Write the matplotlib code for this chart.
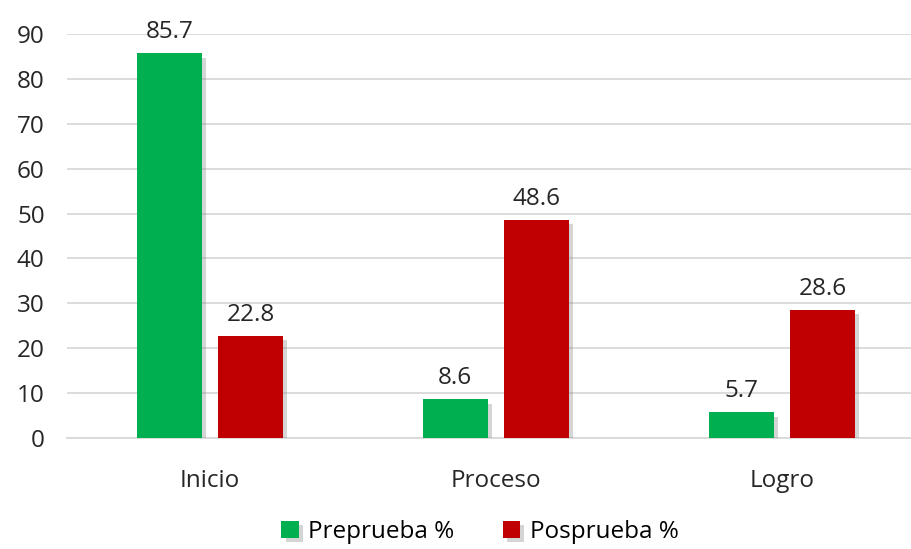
import numpy as np
import matplotlib.pyplot as plt
import matplotlib.patheffects as pe

plt.rcParams['font.family'] = ['Open Sans', 'DejaVu Sans']

categorias = ['Inicio', 'Proceso', 'Logro']
preprueba = [85.7, 8.6, 5.7]
posprueba = [22.8, 48.6, 28.6]
yticks = [0, 10, 20, 30, 40, 50, 60, 70, 80, 90]

verde = '#00B050'
rojo = '#C00000'

fig = plt.figure(figsize=(9.11, 5.49), dpi=100)
ax = fig.add_axes([0.0735, 0.2022, 0.926, 0.7358])

x = np.arange(len(categorias))
w = 0.228
gap = 0.056
sombra = [pe.SimplePatchShadow(offset=(3, -3), shadow_rgbFace='#888888', alpha=0.35), pe.Normal()]

b1 = ax.bar(x - (w + gap) / 2, preprueba, w, color=verde, label='Preprueba %', zorder=3)
b2 = ax.bar(x + (w + gap) / 2, posprueba, w, color=rojo, label='Posprueba %', zorder=3)
for b in list(b1) + list(b2):
    b.set_path_effects(sombra)

for bars, vals in ((b1, preprueba), (b2, posprueba)):
    for b, v in zip(bars, vals):
        ax.text(b.get_x() + b.get_width() / 2, v + 2.0, f'{v:.1f}', ha='center', va='bottom',
                fontsize=17.5, color='#262626')

ax.set_xlim(-0.5, 2.45)
ax.set_ylim(0, 90)
ax.set_yticks(yticks)
ax.set_xticks(x)
ax.set_xticklabels(categorias)
ax.tick_params(axis='both', length=0, labelsize=17.5, colors='#262626')
ax.tick_params(axis='x', pad=22)
ax.tick_params(axis='y', pad=16)
ax.grid(axis='y', color='#D9D9D9', linewidth=1.3, zorder=0)
for s in ['top', 'right', 'left']:
    ax.spines[s].set_visible(False)
ax.spines['bottom'].set_color('#D9D9D9')
ax.spines['bottom'].set_linewidth(1.3)

fig.legend(handles=[b1, b2], loc='lower center', bbox_to_anchor=(0.527, -0.03), ncol=2,
           frameon=False, fontsize=17.5, handlelength=0.7, handleheight=0.7,
           handletextpad=0.4, columnspacing=2.0)

fig.savefig('out.png', dpi=100)
